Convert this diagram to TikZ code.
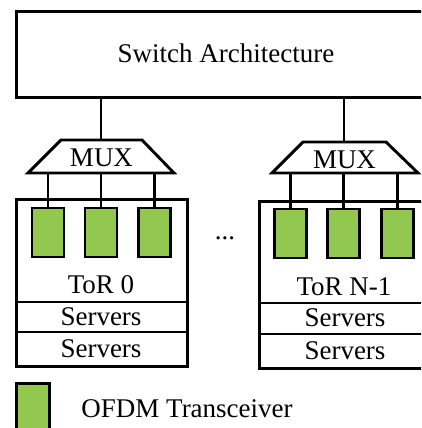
\documentclass[tikz,border=0pt]{standalone}
\usepackage{fontspec}
\setmainfont{Liberation Serif}
\definecolor{ofdmgreen}{RGB}{146,200,80}
\begin{document}
\begin{tikzpicture}[x=1pt,y=-1pt,
  line width=2.9pt, line join=miter,
  lbl/.style={font=\fontsize{27}{30}\selectfont, inner sep=0pt, anchor=base},
  trx/.style={draw, fill=ofdmgreen, minimum width=32pt, minimum height=49pt, inner sep=0pt},
  frame/.style={draw, inner sep=0pt}]
\useasboundingbox (0,0) rectangle (421,428);
\clip (0,0) rectangle (421,428);
% switch architecture
\node[frame, minimum width=425pt, minimum height=86pt, anchor=north west] (sw) at (15,10) {};
\node[lbl] (swt) at (226,63) {Switch Architecture};
% left MUX
\draw (28,173) -- (61,140) -- (142,140) -- (174,173) -- cycle;
\coordinate (m0top) at (101,140);
\coordinate (m0bot) at (101,173);
\node[lbl] (m0t) at (101.5,166) {MUX};
% right MUX
\draw (272,173) -- (303,142) -- (386,142) -- (418,173) -- cycle;
\coordinate (m1top) at (344,142);
\coordinate (m1bot) at (344,173);
\node[lbl] (m1t) at (344.5,168) {MUX};
% ToR 0
\node[frame, minimum width=171pt, minimum height=167pt, anchor=north west] (tor0) at (15,198) {};
\draw (tor0.west |- 0,302) -- (tor0.east |- 0,302);
\draw (tor0.west |- 0,332) -- (tor0.east |- 0,332);
\node[lbl] (tor0t) at (101,293) {ToR 0};
\node[lbl] (s01) at (101,325) {Servers};
\node[lbl] (s02) at (101,357) {Servers};
\node[trx] (t01) at (48,232.5) {};
\node[trx] (t02) at (101,232.5) {};
\node[trx] (t03) at (154.5,232.5) {};
% ToR N-1
\node[frame, minimum width=172pt, minimum height=167pt, anchor=north west] (tor1) at (258,200) {};
\draw (tor1.west |- 0,303) -- (tor1.east |- 0,303);
\draw (tor1.west |- 0,334) -- (tor1.east |- 0,334);
\node[lbl] (tor1t) at (344,295) {ToR N-1};
\node[lbl] (s11) at (345,326) {Servers};
\node[lbl] (s12) at (345,359) {Servers};
\node[trx] (t11) at (290.5,233.5) {};
\node[trx] (t12) at (343.5,233.5) {};
\node[trx] (t13) at (397.5,233.5) {};
% dots
\node[lbl] (dots) at (225,239) {...};
% connectors
\draw (m0top) -- (m0top |- sw.south);
\draw (m1top) -- (m1top |- sw.south);
\foreach \t in {t01,t02,t03} \draw (\t.north) -- (\t.north |- m0bot);
\foreach \t in {t11,t12,t13} \draw (\t.north) -- (\t.north |- m1bot);
% legend
\node[trx, minimum width=33pt, minimum height=60pt, anchor=north west] (leg) at (15,382) {};
\node[lbl, anchor=base west] (legt) at (80,417) {OFDM Transceiver};
\end{tikzpicture}
\end{document}
